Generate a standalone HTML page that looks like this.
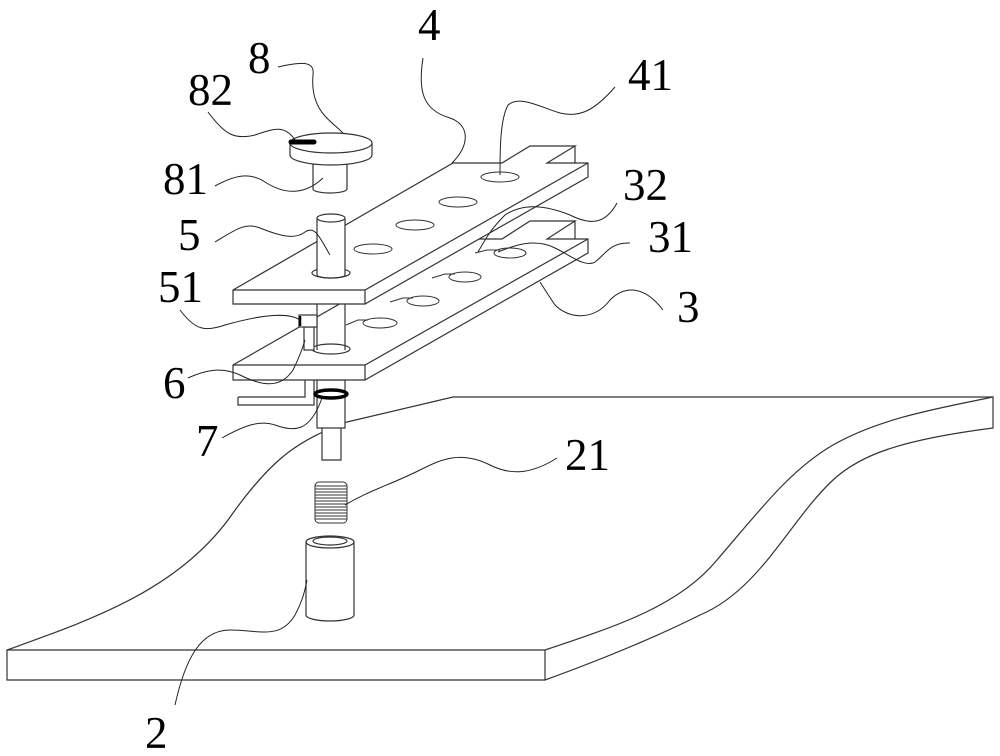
<!DOCTYPE html>
<html><head><meta charset="utf-8"><style>
html,body{margin:0;padding:0;background:#fff;width:1000px;height:756px;overflow:hidden}
svg text{font-family:"Liberation Serif",serif;font-size:45px;fill:#000}
</style></head><body>
<svg width="1000" height="756" viewBox="0 0 1000 756" xmlns="http://www.w3.org/2000/svg" fill="none" stroke="#333" stroke-width="1.2">
<!-- base plate -->
<path d="M7,650 C90,620 180,590 233,513 C275,455 300,440 347,422 L453,397 L993,397 L993,428 C900,440 860,455 833,480 C790,520 760,590 700,615 C650,640 600,660 545,680 L7,680 Z" fill="#fff"/>
<path d="M7,650 L545,650 L545,680 M545,650 C620,625 680,605 717,560 C760,510 790,470 833,445 C880,418 940,408 993,397"/>
<!-- tube 2 -->
<path d="M306,542 L306,615 A24,6 0 0 0 354,615 L354,542" fill="#fff"/>
<ellipse cx="330" cy="542" rx="24" ry="6" fill="#fff"/>
<ellipse cx="330" cy="541" rx="17" ry="4"/>
<!-- spring 21 -->
<g stroke-width="1">
<rect x="315" y="482" width="32" height="41" rx="4" fill="#fff"/>
<path d="M315,486H347M315,489H347M315,492H347M315,495H347M315,498H347M315,501H347M315,504H347M315,507H347M315,510H347M315,513H347M315,516H347M315,519H347"/>
</g>
<!-- shaft lower -->
<path d="M322,428 L322,460 L341,460 L341,428" fill="#fff"/>
<rect x="317" y="380" width="28" height="48" fill="#fff"/>
<!-- bar of rod 6 -->
<path d="M238,397 L238,405 L314,405 L314,380 M238,397 L305,397 L305,380"/>
<!-- ring 7 -->
<ellipse cx="331" cy="394" rx="16" ry="4" stroke="#000" stroke-width="3.5"/>
<!-- lower plate 3 -->
<path d="M233,365 L453,239 L502,239 L530,221 L575,221 L547,239 L588,239 L588,253 L365,380 L233,380 Z" fill="#fff"/>
<path d="M233,365 L365,365 L588,239 M365,365 L365,380 M575,221 L575,239"/>
<!-- keyhole slots -->
<g stroke-width="1">
<path d="M475,253 L487,250 L500,250"/><ellipse cx="510" cy="253" rx="16" ry="5"/>
<path d="M432,278 L445,274 L455,274"/><ellipse cx="465" cy="277" rx="16" ry="5"/>
<path d="M390,302 L403,298 L413,298"/><ellipse cx="423" cy="301" rx="16" ry="5"/>
<path d="M346,325 L358,320 L368,320"/><ellipse cx="380" cy="323" rx="17" ry="5"/>
</g>
<!-- shaft middle -->
<ellipse cx="331" cy="349" rx="19" ry="5" fill="#fff"/>
<path d="M317,304 L317,350 M345,304 L345,350"/>
<!-- rod 6 and block 51 -->
<rect x="304" y="327" width="10" height="23" fill="#fff"/>
<rect x="299" y="315" width="18" height="12" fill="#fff"/>
<path d="M300,316 L300,326" stroke="#000" stroke-width="2.5"/>
<!-- upper plate 4 -->
<path d="M233,290 L453,163 L502,163 L530,146 L575,146 L547,163 L588,163 L588,177 L365,304 L233,304 Z" fill="#fff"/>
<path d="M233,290 L365,290 L588,163 M365,290 L365,304 M575,146 L575,163"/>
<g stroke-width="1">
<ellipse cx="500" cy="177" rx="19" ry="5"/>
<ellipse cx="458" cy="202" rx="19" ry="5"/>
<ellipse cx="415" cy="225" rx="19" ry="5"/>
<ellipse cx="373" cy="249" rx="19" ry="5"/>
</g>
<!-- pin 5 top -->
<ellipse cx="331" cy="273" rx="19" ry="5" fill="#fff"/>
<path d="M317,218 L317,275 A14,3 0 0 0 345,275 L345,218" fill="#fff"/>
<ellipse cx="331" cy="218" rx="14" ry="4" fill="#fff"/>
<!-- knob 8 -->
<path d="M313,160 L313,189 A17,4 0 0 0 347,189 L347,160" fill="#fff"/>
<path d="M290,143 L290,155 A41,10 0 0 0 372,155 L372,143" fill="#fff"/>
<ellipse cx="331" cy="143" rx="41" ry="10" fill="#fff"/>
<path d="M291,142 L314,142" stroke="#000" stroke-width="5" stroke-linecap="round"/>
<!-- leader lines -->
<g stroke="#222" stroke-width="1">
<path d="M278,67 C300,62 315,60 313,75 C310,110 330,120 343,133"/>
<path d="M208,112 C225,135 235,140 255,135 C275,128 285,125 295,140"/>
<path d="M215,186 C235,175 250,172 265,182 C285,195 305,195 323,178"/>
<path d="M423,58 C418,90 422,110 450,118 C470,125 470,145 452,163"/>
<path d="M615,87 C595,110 580,118 560,113 C540,107 520,95 508,105 C500,120 500,150 500,175"/>
<path d="M617,203 C605,225 590,225 570,215 C540,203 520,205 505,215 C490,230 485,240 478,252"/>
<path d="M630,243 C610,242 605,255 595,262 C585,268 570,255 555,248 C535,238 515,245 498,252"/>
<path d="M663,310 C640,280 620,290 610,300 C595,320 570,320 555,305 C545,290 542,285 540,282"/>
<path d="M215,242 C235,230 245,222 260,228 C280,236 295,240 305,232 C315,225 320,238 330,255"/>
<path d="M180,310 C195,330 205,332 225,325 C250,318 285,310 300,320"/>
<path d="M188,378 C210,368 225,368 240,375 C260,385 280,390 293,370 C298,360 302,350 305,340"/>
<path d="M222,438 C245,425 260,420 275,425 C295,432 310,432 322,398"/>
<path d="M557,458 C530,475 510,475 490,465 C460,450 440,460 420,470 C390,485 370,490 345,505"/>
<path d="M175,705 C185,660 200,630 230,630 C260,630 280,640 295,615 C303,600 305,590 307,580"/>
</g>
<!-- labels -->
<g stroke="none">
<text x="248" y="73">8</text>
<text x="188" y="105">82</text>
<text x="163" y="194">81</text>
<text x="418" y="40">4</text>
<text x="628" y="90">41</text>
<text x="623" y="200">32</text>
<text x="178" y="250">5</text>
<text x="648" y="252">31</text>
<text x="158" y="302">51</text>
<text x="677" y="322">3</text>
<text x="163" y="398">6</text>
<text x="196" y="456">7</text>
<text x="565" y="470">21</text>
<text x="145" y="748">2</text>
</g>
</svg>
</body></html>
